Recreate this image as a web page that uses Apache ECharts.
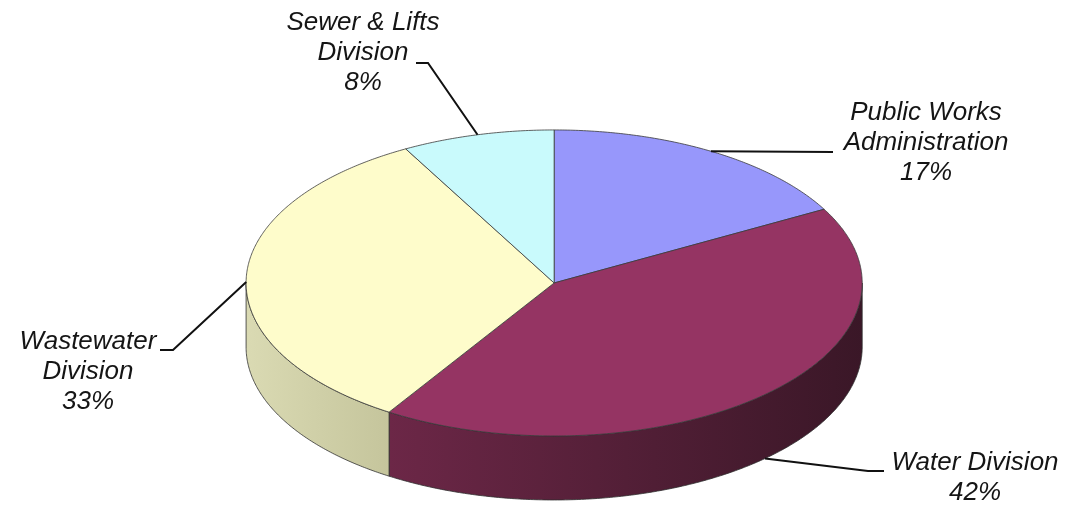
<!DOCTYPE html>
<html>
<head>
<meta charset="utf-8">
<script src="https://cdn.jsdelivr.net/npm/echarts@6/dist/echarts.min.js"></script>
<style>
  html, body { margin: 0; padding: 0; background: #ffffff; }
  #chart { width: 1076px; height: 508px; }
</style>
</head>
<body>
<div id="chart"></div>
<script>
// Budget share by division (percent of total)
const categories = ['Public Works\nAdministration', 'Water Division', 'Wastewater\nDivision', 'Sewer & Lifts\nDivision'];
const shares = [17, 42, 33, 8];

// Face colours: top surface, and the left/right shades of the visible rim wall
const topColors = ['#9797fb', '#953463', '#fefccb', '#c9fafc'];
const wallColors = [['#5c5caa', '#3c3c80'], ['#6c2747', '#3a1727'], ['#dadab3', '#c5c59c'], ['#8fb0b0', '#6f9090']];

// Disc geometry as fractions of the canvas size
const PIE = { cx: 0.515, cy: 0.557, rx: 0.2863, ry: 0.3012, depth: 0.126 };

// Label blocks (text centre x / top y) and the leader elbow + end next to each block
const labelLayout = [
  { x: 926, y: 98,  elbow: [833, 152], end: [833, 152] },
  { x: 975, y: 448, elbow: [868, 471], end: [884, 471] },
  { x: 88,  y: 327, elbow: [173, 350], end: [160, 350] },
  { x: 363, y: 8,   elbow: [428, 63],  end: [416, 63] }
];

const total = shares.reduce((s, v) => s + v, 0);

function renderItem(params, api) {
  const i = params.dataIndex;
  const W = api.getWidth(), H = api.getHeight();
  const cx = W * PIE.cx, cy = H * PIE.cy, rx = W * PIE.rx, ry = H * PIE.ry, depth = H * PIE.depth;
  const rim = (t, dy) => [cx + rx * Math.sin(t), cy - ry * Math.cos(t) + (dy || 0)];

  let before = 0;
  for (let k = 0; k < i; k++) before += shares[k];
  const v = api.value(0);
  const a0 = before / total * Math.PI * 2;
  const a1 = (before + v) / total * Math.PI * 2;
  const step = Math.PI / 360;

  const children = [];

  // Front wall: the part of the slice facing the viewer (angles 90°..270° from the top)
  const w0 = Math.max(a0, Math.PI / 2), w1 = Math.min(a1, Math.PI * 1.5);
  if (w1 > w0) {
    const pts = [];
    for (let t = w0; t < w1; t += step) pts.push(rim(t));
    pts.push(rim(w1));
    for (let t = w1; t > w0; t -= step) pts.push(rim(t, depth));
    pts.push(rim(w0, depth));
    children.push({
      type: 'polygon',
      shape: { points: pts },
      style: {
        fill: new echarts.graphic.LinearGradient(0, 0, 1, 0, [
          { offset: 0, color: wallColors[i][0] },
          { offset: 1, color: wallColors[i][1] }
        ]),
        stroke: '#2e2e2e', lineWidth: 0.8
      },
      z2: 1
    });
  }

  // Top face
  const top = [[cx, cy]];
  for (let t = a0; t < a1; t += step) top.push(rim(t));
  top.push(rim(a1));
  children.push({
    type: 'polygon',
    shape: { points: top },
    style: { fill: topColors[i], stroke: '#3a3a3a', lineWidth: 0.8 },
    z2: 2
  });

  // Leader line from the slice's middle on the rim (down the wall for front slices) out to its label
  const mid = (a0 + a1) / 2;
  const start = rim(mid, depth * Math.min(1, Math.max(0, -Math.cos(mid) * 1.3 + 0.1)));
  const lay = labelLayout[i];
  children.push({
    type: 'polyline',
    shape: { points: [start, lay.elbow, lay.end] },
    style: { stroke: '#111111', lineWidth: 2, fill: null },
    z2: 3
  });

  children.push({
    type: 'text',
    style: {
      text: categories[i] + '\n' + Math.round(v / total * 100) + '%',
      x: lay.x, y: lay.y,
      align: 'center', verticalAlign: 'top',
      font: 'italic 26px "Liberation Sans", Arial, sans-serif',
      lineHeight: 30,
      fill: '#151515'
    },
    z2: 4
  });

  return { type: 'group', children: children };
}

const chart = echarts.init(document.getElementById('chart'), null, { renderer: 'canvas' });
chart.setOption({
  backgroundColor: '#ffffff',
  animation: false,
  series: [{
    type: 'custom',
    coordinateSystem: 'none',
    silent: true,
    renderItem: renderItem,
    data: shares.map(v => [v])
  }]
});
</script>
</body>
</html>
